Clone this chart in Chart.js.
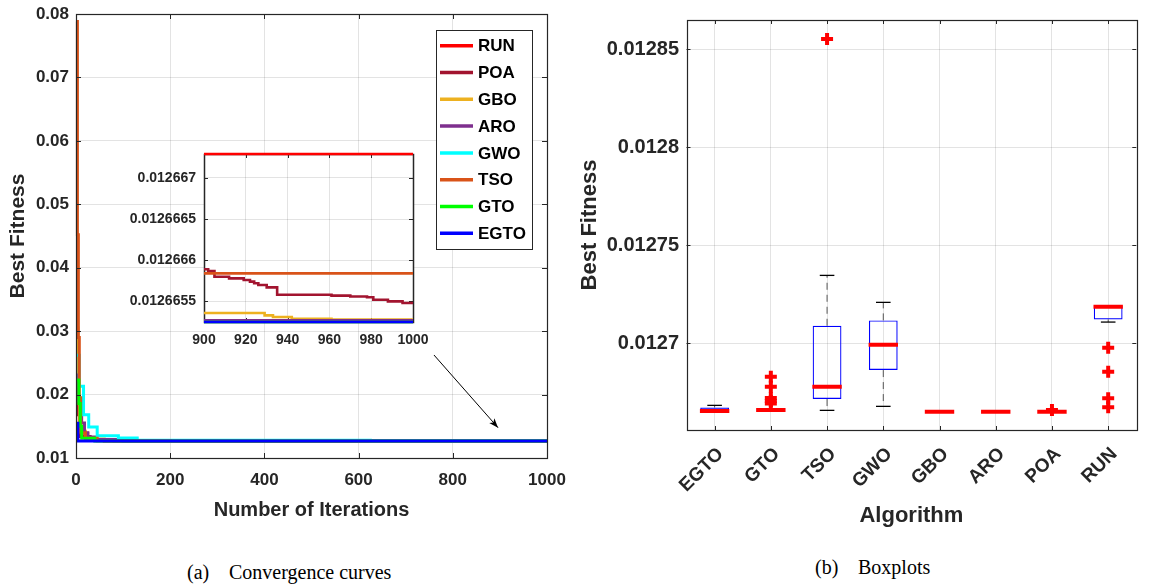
<!DOCTYPE html>
<html>
<head>
<meta charset="utf-8">
<script src="https://cdn.jsdelivr.net/npm/chart.js@4.4.1/dist/chart.umd.min.js"></script>
<style>
  html, body { margin: 0; padding: 0; background: #fff; }
  body { width: 1155px; height: 587px; position: relative; overflow: hidden; }
  canvas { position: absolute; }
  #conv { left: 0; top: 0; }
  #zoom { left: 100px; top: 140px; }
  #box { left: 570px; top: 0; }
  .cap { position: absolute; font-family: "Liberation Serif", "Times New Roman", serif; font-size: 20px; line-height: 20px; color: #000; white-space: nowrap; }
</style>
</head>
<body>
<canvas id="conv" width="580" height="525"></canvas>
<canvas id="zoom" width="330" height="220"></canvas>
<canvas id="box" width="585" height="530"></canvas>
<span class="cap" style="left:187px;top:562px">(a)</span>
<span class="cap" style="left:229px;top:562px">Convergence curves</span>
<span class="cap" style="left:815px;top:557px">(b)</span>
<span class="cap" style="left:858px;top:557px">Boxplots</span>
<script>
// convergence curves: [iteration, best fitness]
const algNames = ['RUN', 'POA', 'GBO', 'ARO', 'GWO', 'TSO', 'GTO', 'EGTO'];
const runCurve = [[1, 0.0254], [4, 0.0178], [7, 0.0139], [25, 0.0129], [60, 0.01268], [150, 0.01266729], [1000, 0.01266729]];
const poaCurve = [[1, 0.0243], [5, 0.0168], [9, 0.0134], [30, 0.0128], [80, 0.012672], [300, 0.0126661], [700, 0.0126659],
  [890, 0.01266589], [902, 0.01266587], [905, 0.0126658], [912, 0.01266578], [919, 0.01266576], [922, 0.01266574],
  [924, 0.01266572], [926, 0.0126657], [930, 0.01266567], [935, 0.01266558], [961, 0.01266557], [970, 0.01266556],
  [978, 0.01266555], [981, 0.01266552], [988, 0.0126655], [995, 0.01266548], [1000, 0.01266548]];
const gboCurve = [[1, 0.0305], [4, 0.0195], [8, 0.0142], [20, 0.013], [60, 0.01268], [500, 0.01266536],
  [929, 0.01266533], [933, 0.01266531], [942, 0.01266529], [961, 0.01266528], [1000, 0.01266528]];
const aroCurve = [[1, 0.0231], [5, 0.019], [12, 0.0155], [18, 0.014], [25, 0.0133], [40, 0.0129], [100, 0.01268], [400, 0.01266527], [1000, 0.01266527]];
const gwoCurve = [[1, 0.0262], [7, 0.0213], [16, 0.0168], [27, 0.0149], [45, 0.0135], [90, 0.01315], [130, 0.0128], [625, 0.0127], [1000, 0.0127]];
const tsoCurve = [[1, 0.0788], [3, 0.0452], [5, 0.029], [7, 0.0195], [10, 0.014], [20, 0.0131], [45, 0.0127], [200, 0.01266584], [1000, 0.01266584]];
const gtoCurve = [[1, 0.0223], [6, 0.0186], [9, 0.015], [12, 0.0131], [40, 0.01268], [300, 0.01266525], [1000, 0.01266525]];
const egtoCurve = [[1, 0.01547], [4, 0.01268], [30, 0.01266525], [1000, 0.01266525]];
const curves = [runCurve, poaCurve, gboCurve, aroCurve, gwoCurve, tsoCurve, gtoCurve, egtoCurve];
const algColors = ['#ff0000', '#a2142f', '#edb120', '#7e2f8e', '#00ffff', '#d95319', '#00ff00', '#0000ff'];

const mainXTicks = [0, 200, 400, 600, 800, 1000];
const mainXLabels = ['0', '200', '400', '600', '800', '1000'];
const mainYTicks = [0.01, 0.02, 0.03, 0.04, 0.05, 0.06, 0.07, 0.08];
const mainYLabels = ['0.01', '0.02', '0.03', '0.04', '0.05', '0.06', '0.07', '0.08'];
const zoomXTicks = [900, 920, 940, 960, 980, 1000];
const zoomXLabels = ['900', '920', '940', '960', '980', '1000'];
const zoomYTicks = [0.0126655, 0.012666, 0.0126665, 0.012667];
const zoomYLabels = ['0.0126655', '0.012666', '0.0126665', '0.012667'];
const arrowFrom = [760, 0.02624];
const arrowTo = [896, 0.01478];

// boxplot statistics
const boxAlgs = ['EGTO', 'GTO', 'TSO', 'GWO', 'GBO', 'ARO', 'POA', 'RUN'];
const whiskerLow = [0.0126648, 0.0126657, 0.01266582, 0.01266786, 0.0126651, 0.0126651, 0.0126651, 0.01271087];
const boxQ1 = [0.0126648, 0.0126657, 0.01267158, 0.01268638, 0.0126651, 0.0126651, 0.0126651, 0.01271224];
const boxMedian = [0.01266546, 0.012666, 0.01267786, 0.01269929, 0.0126651, 0.0126651, 0.0126651, 0.01271867];
const boxQ3 = [0.0126673, 0.0126663, 0.01270898, 0.01271173, 0.0126651, 0.0126651, 0.0126651, 0.01271918];
const whiskerHigh = [0.01266837, 0.0126663, 0.01273469, 0.01272092, 0.0126651, 0.0126651, 0.0126651, 0.01271918];
const outliers = [[], [0.01268296, 0.01267786, 0.01267209, 0.01267056, 0.01266929], [0.01285526], [], [], [], [0.01266597],
  [0.01269776, 0.01268551, 0.01267194, 0.01266735]];
const boxYTicks = [0.0127, 0.01275, 0.0128, 0.01285];
const boxYLabels = ['0.0127', '0.01275', '0.0128', '0.01285'];

const FONT = '"Liberation Sans", Arial, sans-serif';
const INK = '#262626';
const GRID = 'rgba(0,0,0,0.11)';

// axes box with inward ticks
function drawFrame(chart, opts) {
  const {ctx, chartArea: a, scales} = chart;
  const len = opts.tick || 5;
  ctx.save();
  ctx.strokeStyle = INK;
  ctx.lineWidth = 1;
  ctx.beginPath();
  scales.x.ticks.forEach((t, i) => {
    const px = Math.round(scales.x.getPixelForTick(i)) + 0.5;
    ctx.moveTo(px, a.bottom); ctx.lineTo(px, a.bottom - len);
    ctx.moveTo(px, a.top); ctx.lineTo(px, a.top + len);
  });
  scales.y.ticks.forEach((t, i) => {
    const py = Math.round(scales.y.getPixelForTick(i)) + 0.5;
    ctx.moveTo(a.left, py); ctx.lineTo(a.left + len, py);
    ctx.moveTo(a.right, py); ctx.lineTo(a.right - len, py);
  });
  ctx.stroke();
  ctx.lineWidth = opts.border || 1.2;
  ctx.strokeRect(Math.round(a.left) + 0.5, Math.round(a.top) + 0.5, Math.round(a.right - a.left), Math.round(a.bottom - a.top));
  ctx.restore();
}

const frame = {
  id: 'frame',
  beforeDraw(chart, args, opts) {
    if (!opts.fill) return;
    const a = chart.chartArea;
    chart.ctx.save();
    chart.ctx.fillStyle = '#fff';
    chart.ctx.fillRect(a.left, a.top, a.right - a.left, a.bottom - a.top);
    chart.ctx.restore();
  },
  beforeDatasetsDraw(chart, args, opts) {
    if (opts.under) drawFrame(chart, opts);
  },
  afterDatasetsDraw(chart, args, opts) {
    if (!opts.under) drawFrame(chart, opts);
  }
};

const legendBox = {
  id: 'legendBox',
  afterDatasetsDraw(chart) {
    const {ctx, chartArea: a} = chart;
    const w = 96, h = 219, rowH = 26.8;
    const x0 = Math.round(a.right - 15 - w), y0 = Math.round(a.top + 16);
    ctx.save();
    ctx.fillStyle = '#fff';
    ctx.fillRect(x0, y0, w, h);
    ctx.strokeStyle = INK;
    ctx.lineWidth = 1;
    ctx.strokeRect(x0 + 0.5, y0 + 0.5, w, h);
    ctx.font = 'bold 17px ' + FONT;
    ctx.textBaseline = 'middle';
    chart.data.datasets.forEach((ds, i) => {
      const y = y0 + 15.7 + i * rowH;
      ctx.strokeStyle = ds.borderColor;
      ctx.lineWidth = 3.5;
      ctx.beginPath(); ctx.moveTo(x0 + 4, y); ctx.lineTo(x0 + 37, y); ctx.stroke();
      ctx.fillStyle = '#000';
      ctx.fillText(ds.label, x0 + 42, y + 1);
    });
    ctx.restore();
  }
};

const arrow = {
  id: 'arrow',
  afterDatasetsDraw(chart) {
    const {ctx, scales: {x, y}} = chart;
    const x1 = x.getPixelForValue(arrowFrom[0]), y1 = y.getPixelForValue(arrowFrom[1]);
    const x2 = x.getPixelForValue(arrowTo[0]), y2 = y.getPixelForValue(arrowTo[1]);
    const ang = Math.atan2(y2 - y1, x2 - x1);
    ctx.save();
    ctx.strokeStyle = '#000';
    ctx.fillStyle = '#000';
    ctx.lineWidth = 1;
    ctx.beginPath(); ctx.moveTo(x1, y1); ctx.lineTo(x2, y2); ctx.stroke();
    ctx.beginPath();
    ctx.moveTo(x2, y2);
    ctx.lineTo(x2 - 10 * Math.cos(ang - 0.35), y2 - 10 * Math.sin(ang - 0.35));
    ctx.lineTo(x2 - 7 * Math.cos(ang), y2 - 7 * Math.sin(ang));
    ctx.lineTo(x2 - 10 * Math.cos(ang + 0.35), y2 - 10 * Math.sin(ang + 0.35));
    ctx.closePath();
    ctx.fill();
    ctx.restore();
  }
};

function curveSets(width, clip) {
  return curves.map((c, i) => ({
    label: algNames[i],
    data: c.map(p => ({x: p[0], y: p[1]})),
    borderColor: algColors[i],
    borderWidth: width,
    stepped: true,
    pointRadius: 0,
    fill: false,
    clip: clip,
    order: curves.length - 1 - i
  }));
}

function fixedTicks(values) {
  return scale => { scale.ticks = values.map(v => ({value: v})); };
}
function fixH(h) {
  return s => { s.height = h; s.paddingLeft = 0; s.paddingRight = 0; };
}
function fixW(w) {
  return s => { s.width = w; s.paddingTop = 0; s.paddingBottom = 0; };
}

// left: convergence curves
new Chart(document.getElementById('conv'), {
  type: 'line',
  data: {datasets: curveSets(3, 2)},
  options: {
    responsive: false,
    animation: false,
    events: [],
    layout: {padding: {top: 14, right: 33, bottom: 0, left: 0}},
    plugins: {legend: {display: false}, tooltip: {enabled: false}, frame: {tick: 5}},
    scales: {
      x: {
        type: 'linear', min: 0, max: 1000,
        afterBuildTicks: fixedTicks(mainXTicks),
        afterFit: fixH(67),
        grid: {color: GRID, drawTicks: false},
        border: {display: false},
        ticks: {color: INK, padding: 12, font: {family: FONT, size: 17, weight: 'bold'},
          callback: (v, i) => mainXLabels[i]},
        title: {display: true, text: 'Number of Iterations', color: INK, padding: {top: 0, bottom: 3},
          font: {family: FONT, size: 20, weight: 'bold'}}
      },
      y: {
        type: 'linear', min: 0.01, max: 0.08,
        afterBuildTicks: fixedTicks(mainYTicks),
        afterFit: fixW(76),
        grid: {color: GRID, drawTicks: false},
        border: {display: false},
        ticks: {color: INK, padding: 7, font: {family: FONT, size: 17, weight: 'bold'},
          callback: (v, i) => mainYLabels[i]},
        title: {display: true, text: 'Best Fitness', color: INK, padding: {top: 6, bottom: 0},
          font: {family: FONT, size: 21, weight: 'bold'}}
      }
    }
  },
  plugins: [frame, arrow, legendBox]
});

// inset: last 100 iterations
new Chart(document.getElementById('zoom'), {
  type: 'line',
  data: {datasets: curveSets(2.6, {top: 3, bottom: 3, left: 0, right: 0})},
  options: {
    responsive: false,
    animation: false,
    events: [],
    layout: {padding: {top: 14, right: 17, bottom: 0, left: 0}},
    plugins: {legend: {display: false}, tooltip: {enabled: false}, frame: {tick: 4, fill: true, border: 1.5, under: true}},
    scales: {
      x: {
        type: 'linear', min: 900, max: 1000,
        afterBuildTicks: fixedTicks(zoomXTicks),
        afterFit: fixH(38),
        grid: {color: GRID, drawTicks: false},
        border: {display: false},
        ticks: {color: INK, padding: 10, font: {family: FONT, size: 14, weight: 'bold'},
          callback: (v, i) => zoomXLabels[i]}
      },
      y: {
        type: 'linear', min: 0.01266525, max: 0.01266729,
        afterBuildTicks: fixedTicks(zoomYTicks),
        afterFit: fixW(104),
        grid: {color: GRID, drawTicks: false},
        border: {display: false},
        ticks: {color: INK, padding: 8, font: {family: FONT, size: 14, weight: 'bold'},
          callback: (v, i) => zoomYLabels[i]}
      }
    }
  },
  plugins: [frame]
});

// right: boxplots
const upperWhiskers = [], lowerWhiskers = [], caps = [], medians = [], outlierPts = [];
boxAlgs.forEach((a, i) => {
  upperWhiskers.push({x: a, y: boxQ3[i]}, {x: a, y: whiskerHigh[i]}, {x: a, y: null});
  lowerWhiskers.push({x: a, y: boxQ1[i]}, {x: a, y: whiskerLow[i]}, {x: a, y: null});
  caps.push({x: a, y: whiskerHigh[i]}, {x: a, y: whiskerLow[i]});
  medians.push({x: a, y: boxMedian[i]});
  outliers[i].forEach(v => outlierPts.push({x: a, y: v}));
});

new Chart(document.getElementById('box'), {
  type: 'bar',
  data: {
    labels: boxAlgs,
    datasets: [
      {type: 'bar', data: boxAlgs.map((a, i) => [boxQ1[i], boxQ3[i]]), backgroundColor: 'rgba(0,0,0,0)',
        borderColor: '#0000ff', borderWidth: 1.2, borderSkipped: false, barPercentage: 0.512, categoryPercentage: 1, order: 4},
      {type: 'line', data: upperWhiskers, borderColor: '#555', borderWidth: 1, borderDash: [7, 5], pointRadius: 0, spanGaps: false, order: 3},
      {type: 'line', data: lowerWhiskers, borderColor: '#555', borderWidth: 1, borderDash: [7, 5], pointRadius: 0, spanGaps: false, order: 3},
      {type: 'line', data: caps, showLine: false, pointStyle: 'line', pointRadius: 7.3, pointBorderWidth: 1.3,
        pointBorderColor: '#000', order: 2},
      {type: 'line', data: medians, showLine: false, pointStyle: 'line', pointRadius: 14.7, pointBorderWidth: 4,
        pointBorderColor: '#ff0000', order: 1},
      {type: 'line', data: outlierPts, showLine: false, pointStyle: 'cross', pointRadius: 6, pointBorderWidth: 4,
        pointBorderColor: '#ff0000', order: 0}
    ]
  },
  options: {
    responsive: false,
    animation: false,
    events: [],
    layout: {padding: {top: 20, right: 9.6, bottom: 0, left: 0}},
    plugins: {legend: {display: false}, tooltip: {enabled: false}, frame: {tick: 4}},
    scales: {
      x: {
        type: 'category', offset: true,
        afterFit: fixH(100),
        grid: {color: GRID, drawTicks: false, offset: false},
        border: {display: false},
        ticks: {color: INK, padding: 13, labelOffset: 6, minRotation: 45, maxRotation: 45, autoSkip: false,
          font: {family: FONT, size: 19, weight: 'bold'}},
        title: {display: true, text: 'Algorithm', color: INK, padding: {top: 0, bottom: 1},
          font: {family: FONT, size: 22, weight: 'bold'}}
      },
      y: {
        type: 'linear', min: 0.0126558, max: 0.012865,
        afterBuildTicks: fixedTicks(boxYTicks),
        afterFit: fixW(116.5),
        grid: {color: GRID, drawTicks: false},
        border: {display: false},
        ticks: {color: INK, padding: 7.5, font: {family: FONT, size: 20, weight: 'bold'},
          callback: (v, i) => boxYLabels[i]},
        title: {display: true, text: 'Best Fitness', color: INK, padding: {top: 6.5, bottom: 0},
          font: {family: FONT, size: 22, weight: 'bold'}}
      }
    }
  },
  plugins: [frame]
});
</script>
</body>
</html>
